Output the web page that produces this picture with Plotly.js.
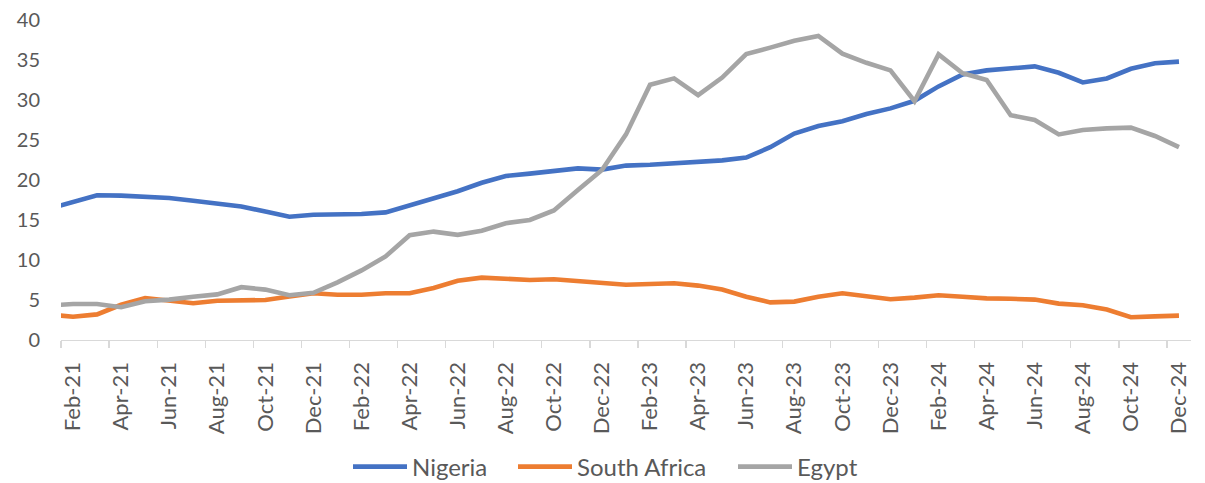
<!DOCTYPE html>
<html>
<head>
<meta charset="utf-8">
<script src="https://cdn.plot.ly/plotly-3.0.1.min.js"></script>
<style>
  html, body { margin: 0; padding: 0; background: #ffffff; }
  #chart { width: 1205px; height: 483px; }
</style>
</head>
<body>
<div id="chart"></div>
<script>
// Monthly categories (Jan-21 .. Dec-24)
const months = [
  "Jan-21","Feb-21","Mar-21","Apr-21","May-21","Jun-21","Jul-21","Aug-21","Sep-21","Oct-21","Nov-21","Dec-21",
  "Jan-22","Feb-22","Mar-22","Apr-22","May-22","Jun-22","Jul-22","Aug-22","Sep-22","Oct-22","Nov-22","Dec-22",
  "Jan-23","Feb-23","Mar-23","Apr-23","May-23","Jun-23","Jul-23","Aug-23","Sep-23","Oct-23","Nov-23","Dec-23",
  "Jan-24","Feb-24","Mar-24","Apr-24","May-24","Jun-24","Jul-24","Aug-24","Sep-24","Oct-24","Nov-24","Dec-24"
];

// Tick labels shown on the axis
const tickLabels = [
  "Feb-21","Apr-21","Jun-21","Aug-21","Oct-21","Dec-21",
  "Feb-22","Apr-22","Jun-22","Aug-22","Oct-22","Dec-22",
  "Feb-23","Apr-23","Jun-23","Aug-23","Oct-23","Dec-23",
  "Feb-24","Apr-24","Jun-24","Aug-24","Oct-24","Dec-24"
];

const nigeria = [
  16.4, 17.3, 18.1, 18.05, 17.9, 17.75, 17.4, 17.05, 16.7, 16.05, 15.4, 15.65,
  15.65, 15.75, 15.95, 16.8, 17.7, 18.6, 19.65, 20.5, 20.8, 21.1, 21.45, 21.3,
  21.8, 21.9, 22.05, 22.2, 22.45, 22.8, 24.1, 25.8, 26.75, 27.35, 28.25, 28.95,
  29.9, 31.7, 33.2, 33.7, 33.95, 34.2, 33.4, 32.2, 32.7, 33.9, 34.6, 34.8
];

const southAfrica = [
  3.2, 2.9, 3.2, 4.4, 5.25, 4.95, 4.6, 4.9, 5.0, 5.0, 5.45, 5.85,
  5.65, 5.65, 5.85, 5.85, 6.5, 7.4, 7.8, 7.6, 7.5, 7.6, 7.4, 7.2,
  6.9, 7.0, 7.1, 6.8, 6.3, 5.4, 4.7, 4.8, 5.4, 5.85, 5.45, 5.1,
  5.3, 5.6, 5.4, 5.2, 5.15, 5.05, 4.55, 4.35, 3.8, 2.85, 2.95, 3.05
];

const egypt = [
  4.3, 4.5, 4.5, 4.1, 4.85, 5.05, 5.4, 5.7, 6.6, 6.3, 5.6, 5.9,
  7.2, 8.7, 10.45, 13.1, 13.55, 13.15, 13.65, 14.6, 15.0, 16.2, 18.75, 21.25,
  25.7, 31.9, 32.7, 30.6, 32.8, 35.75, 36.55, 37.4, 38.0, 35.8, 34.65, 33.7,
  29.85, 35.7, 33.35, 32.5, 28.1, 27.5, 25.7, 26.25, 26.45, 26.55, 25.5, 24.1
];

const xIdx = months.map((m, i) => i);
const tickIdx = tickLabels.map(t => months.indexOf(t));

const lineStyle = (color) => ({ color: color, width: 4.6, shape: "linear" });

const traces = [
  { name: "Nigeria", legend: "legend", x: xIdx, y: nigeria, type: "scatter", mode: "lines",
    line: lineStyle("#4472C4"), text: months, hovertemplate: "%{text}: %{y}<extra>Nigeria</extra>" },
  { name: "South Africa", legend: "legend2", x: xIdx, y: southAfrica, type: "scatter", mode: "lines",
    line: lineStyle("#ED7D31"), text: months, hovertemplate: "%{text}: %{y}<extra>South Africa</extra>" },
  { name: "Egypt", legend: "legend3", x: xIdx, y: egypt, type: "scatter", mode: "lines",
    line: lineStyle("#A5A5A5"), text: months, hovertemplate: "%{text}: %{y}<extra>Egypt</extra>" }
];

const legendBase = (xPos) => ({
  orientation: "h",
  xref: "container", yref: "container",
  x: xPos, xanchor: "left",
  y: 0.0331, yanchor: "middle",
  font: { size: 24, color: "#595959" },
  itemwidth: 54,
  bgcolor: "rgba(0,0,0,0)"
});

const layout = {
  width: 1205,
  height: 483,
  margin: { l: 61, r: 14, t: 20, b: 143 },
  paper_bgcolor: "#ffffff",
  plot_bgcolor: "#ffffff",
  font: { family: "Lato, 'Liberation Sans', sans-serif", color: "#595959", size: 20 },
  showlegend: true,
  legend: legendBase(348 / 1205),
  legend2: legendBase(513 / 1205),
  legend3: legendBase(733 / 1205),
  xaxis: {
    type: "linear",
    range: [0.5, 47.5],
    automargin: false,
    tickmode: "array",
    tickvals: tickIdx,
    ticktext: tickLabels,
    tickangle: -90,
    ticks: "",
    ticklabelstandoff: 12,
    tickfont: { size: 22, color: "#595959" },
    showgrid: false,
    zeroline: false,
    showline: true,
    linecolor: "#d9d9d9",
    linewidth: 1.3,
    minor: {
      ticks: "outside",
      tick0: 0.5,
      dtick: 2,
      ticklen: 7,
      tickwidth: 1.3,
      tickcolor: "#d9d9d9",
      showgrid: false
    },
    fixedrange: true
  },
  yaxis: {
    range: [0, 40],
    automargin: false,
    tickmode: "linear",
    tick0: 0,
    dtick: 5,
    ticks: "",
    ticklabelstandoff: 20,
    tickfont: { size: 20, color: "#595959" },
    showgrid: false,
    zeroline: false,
    showline: false,
    fixedrange: true
  }
};

Plotly.newPlot("chart", traces, layout, { displayModeBar: false, staticPlot: true });
</script>
</body>
</html>
